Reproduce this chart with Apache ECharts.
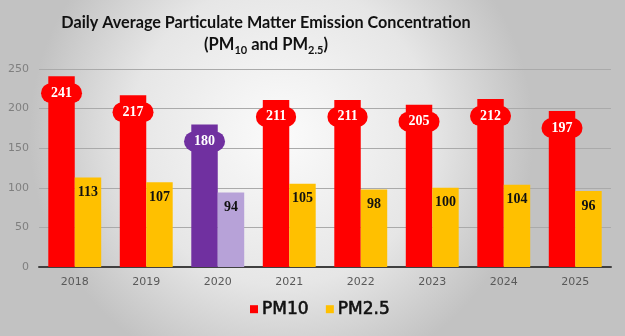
<!DOCTYPE html>
<html>
<head>
<meta charset="utf-8">
<script src="https://cdn.jsdelivr.net/npm/echarts@6/dist/echarts.min.js"></script>
<style>html,body{margin:0;padding:0;}#c{width:625px;height:336px;}</style>
</head>
<body>
<div id="c"></div>
<script>
var years = ['2018','2019','2020','2021','2022','2023','2024','2025'];
var pm10 = [241,217,180,211,211,205,212,197];
var pm25 = [113,107,94,105,98,100,104,96];
var yTicks = [0,50,100,150,200,250];
var highlightYear = '2020';

var chart = echarts.init(document.getElementById('c'));
var red = '#FF0000', yellow = '#FFC000', purple = '#7030A0', lilac = '#B7A2D8';
function mk(vals, base, hi) {
  return vals.map(function (v, i) {
    return years[i] === highlightYear ? {value: v, itemStyle: {color: hi}, label: base === red ? {backgroundColor: hi} : {}} : v;
  });
}
chart.setOption({
  backgroundColor: {type: 'radial', x: 0.45, y: 0.4, r: 0.75,
    colorStops: [{offset: 0, color: '#fbfbfb'}, {offset: 0.6, color: '#e6e6e6'}, {offset: 1, color: '#c2c2c2'}]},
  animation: false,
  title: {
    text: 'Daily Average Particulate Matter Emission Concentration\n{n|(PM}{s|10}{n| and PM}{s|2.5}{n|)}',
    left: 261, top: 7, textAlign: 'center',
    textStyle: {fontFamily: 'Lato', fontWeight: 'bold', fontSize: 16.2, color: '#111', lineHeight: 22,
      rich: {n: {fontFamily: 'Lato', fontWeight: 'bold', fontSize: 16.5, color: '#111'},
             s: {fontFamily: 'Lato', fontWeight: 'bold', fontSize: 11, color: '#111', verticalAlign: 'bottom', padding: [8, 0, 0, 0]}}}
  },
  legend: {
    bottom: 13, left: 245, itemWidth: 8, itemHeight: 8, itemGap: 17, icon: 'rect',
    textStyle: {fontFamily: 'DejaVu Sans', fontSize: 17, color: '#111', textBorderColor: '#111', textBorderWidth: 0.6, padding: [0, 0, 0, -1]},
    data: ['PM10', 'PM2.5']
  },
  grid: {left: 39, right: 14, top: 69, bottom: 69},
  xAxis: {
    type: 'category', data: years,
    axisLine: {lineStyle: {color: '#404040', width: 2}},
    axisTick: {show: false},
    axisLabel: {fontFamily: 'DejaVu Sans', fontSize: 11, color: '#595959', margin: 10}
  },
  yAxis: {
    type: 'value', min: yTicks[0], max: yTicks[yTicks.length - 1], interval: 50,
    axisLine: {show: false}, axisTick: {show: false},
    axisLabel: {fontFamily: 'DejaVu Sans', fontSize: 11, color: '#7f7f7f', margin: 10},
    splitLine: {lineStyle: {color: '#aaaaaa', width: 1}}
  },
  series: [
    {name: 'PM10', type: 'bar', data: mk(pm10, red, purple), barGap: '0%', barCategoryGap: '26%',
      itemStyle: {color: red},
      label: {show: true, position: 'insideTop', distance: 7, color: '#fff',
        fontFamily: 'Liberation Serif', fontWeight: 'bold', fontSize: 14, lineHeight: 14,
        backgroundColor: red, borderRadius: 10, padding: [3, 10, 3, 10]}},
    {name: 'PM2.5', type: 'bar', data: mk(pm25, yellow, lilac),
      itemStyle: {color: yellow},
      label: {show: true, position: 'insideTop', distance: 8, color: '#111',
        fontFamily: 'Liberation Serif', fontWeight: 'bold', fontSize: 14}}
  ]
});
</script>
</body>
</html>
